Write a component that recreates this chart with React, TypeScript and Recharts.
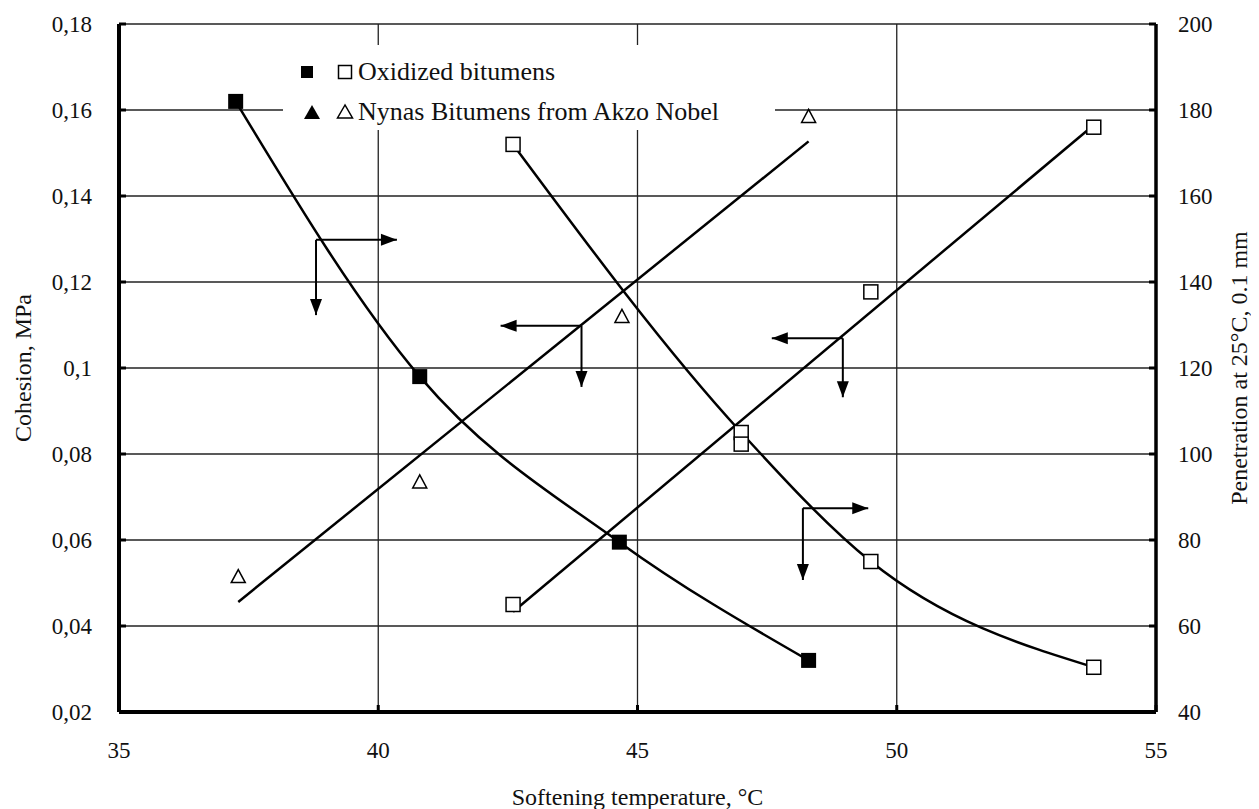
import { CartesianGrid, ComposedChart, Line, ReferenceDot, ReferenceLine, Scatter, XAxis, YAxis } from 'recharts';

// #region Data
// softening temperature, °C
const oxFilledTemp = [37.25, 40.8, 44.65, 48.3];
const oxFilledCohesion = [0.162, 0.098, 0.0595, 0.032];

const oxOpenTemp = [42.6, 47.0, 49.5, 53.8];
const oxOpenCohesion = [0.152, 0.085, 0.055, 0.0304];
const oxOpenPenetration = [65, 102.3, 137.7, 176];

const nynasTemp = [37.3, 40.8, 44.7, 48.3];
const nynasPenetration = [71.5, 93.5, 132, 178.5];

// straight trend lines (end points)
const oxTrendTemp = [42.6, 53.8];
const oxTrendPenetration = [63.3, 176.5];
const nynasTrendTemp = [37.3, 48.3];
const nynasTrendPenetration = [65.6, 172.7];

// little arrows telling which axis a curve belongs to (cohesion scale)
const arrowTemp = [38.8, 43.92, 48.96, 48.19];
const arrowCohesion = [0.1298, 0.1098, 0.1069, 0.0674];
const arrowTipTemp = [40.36, 42.36, 47.59, 49.45];
const arrowTipCohesion = [0.1123, 0.0956, 0.0932, 0.0507];

const tempTicks = [35, 40, 45, 50, 55];
const cohesionTicks = [0.02, 0.04, 0.06, 0.08, 0.1, 0.12, 0.14, 0.16, 0.18];
const penetrationTicks = [40, 60, 80, 100, 120, 140, 160, 180, 200];

const legendLabels = ['Oxidized bitumens', 'Nynas Bitumens from Akzo Nobel'];
// #endregion

const font = '"Liberation Serif", "Times New Roman", serif';
const ink = '#111';

const pts = (t: number[], v: number[]) => t.map((x, i) => ({ t: x, v: v[i] }));

const fmtComma = (v: number) => parseFloat(v.toFixed(2)).toString().replace('.', ',');

const XTick = ({ x, y, payload }: any) => (
    <g>
        <line x1={x} y1={y} x2={x} y2={y - 7} stroke="#000" strokeWidth={3} />
        <text x={x} y={y + 46} textAnchor="middle" fontSize={23} fill={ink} fontFamily={font}>{payload.value}</text>
    </g>
);

const LeftTick = ({ x, y, payload }: any) => (
    <g>
        <line x1={x} y1={y} x2={x + 7} y2={y} stroke="#000" strokeWidth={3} />
        <text x={x - 27} y={y + 8} textAnchor="end" fontSize={23} fill={ink} fontFamily={font}>{fmtComma(payload.value)}</text>
    </g>
);

const RightTick = ({ x, y, payload }: any) => (
    <g>
        <line x1={x} y1={y} x2={x - 7} y2={y} stroke="#000" strokeWidth={3} />
        <text x={x + 22} y={y + 8} textAnchor="start" fontSize={23} fill={ink} fontFamily={font}>{payload.value}</text>
    </g>
);

const FilledSquare = ({ cx, cy }: any) => <rect x={cx - 7.5} y={cy - 7.5} width={15} height={15} fill="#000" />;
const OpenSquare = ({ cx, cy }: any) => <rect x={cx - 7} y={cy - 7} width={14} height={14} fill="#fff" stroke="#000" strokeWidth={1.5} />;
const OpenTriangle = ({ cx, cy }: any) => (
    <polygon points={`${cx},${cy - 7} ${cx - 7},${cy + 6} ${cx + 7},${cy + 6}`} fill="#fff" stroke="#000" strokeWidth={1.5} />
);

const arrowHead = (dir: 'left' | 'right' | 'down') => ({ cx, cy }: any) => {
    const L = 16;
    const W = 6;
    let p = '';
    if (dir === 'right') p = `${cx},${cy} ${cx - L},${cy - W} ${cx - L},${cy + W}`;
    if (dir === 'left') p = `${cx},${cy} ${cx + L},${cy - W} ${cx + L},${cy + W}`;
    if (dir === 'down') p = `${cx},${cy} ${cx - W},${cy - L} ${cx + W},${cy - L}`;
    return <polygon points={p} fill="#000" />;
};

const LegendBox = () => (
    <div style={{ position: 'absolute', left: 275, top: 37, width: 492, height: 85, background: '#fff', fontFamily: font, fontSize: 26, color: ink }}>
        {legendLabels.map((label, i) => (
            <div key={label} style={{ position: 'absolute', left: 0, top: (i === 0 ? 27 : 67) - 15, height: 30, display: 'flex', alignItems: 'center' }}>
                <svg width={75} height={30}>
                    {i === 0 ? (
                        <>
                            <rect x={18} y={9} width={12} height={12} fill="#000" />
                            <rect x={55.5} y={8.5} width={13} height={13} fill="#fff" stroke="#000" strokeWidth={1.5} />
                        </>
                    ) : (
                        <>
                            <polygon points="29,8 21,22 37,22" fill="#000" />
                            <polygon points="62,8 54.5,21 69.5,21" fill="#fff" stroke="#000" strokeWidth={1.5} />
                        </>
                    )}
                </svg>
                <span style={{ lineHeight: '30px', whiteSpace: 'nowrap' }}>{label}</span>
            </div>
        ))}
    </div>
);

export default function App() {
    return (
        <div style={{ position: 'relative', width: 1251, height: 801 }}>
            <ComposedChart width={1251} height={801} margin={{ top: 16, right: 0, bottom: 0, left: 0 }}>
                <CartesianGrid yAxisId="left" stroke="#222" strokeWidth={1.3} />
                <XAxis
                    type="number"
                    dataKey="t"
                    domain={[35, 55]}
                    ticks={tempTicks}
                    height={97}
                    tickSize={0}
                    tickMargin={0}
                    tickLine={false}
                    tick={<XTick />}
                    axisLine={{ stroke: '#000', strokeWidth: 4 }}
                    label={{ value: 'Softening temperature, °C', position: 'insideBottom', offset: 4, fontSize: 24, fill: ink, fontFamily: font }}
                />
                <YAxis
                    yAxisId="left"
                    type="number"
                    dataKey="v"
                    domain={[0.02, 0.18]}
                    ticks={cohesionTicks}
                    width={111}
                    tickSize={0}
                    tickMargin={0}
                    tickLine={false}
                    tick={<LeftTick />}
                    axisLine={{ stroke: '#000', strokeWidth: 4 }}
                    label={{ value: 'Cohesion, MPa', angle: -90, position: 'insideLeft', offset: 14, fontSize: 24, fill: ink, fontFamily: font, style: { textAnchor: 'middle' } }}
                />
                <YAxis
                    yAxisId="right"
                    orientation="right"
                    type="number"
                    dataKey="v"
                    domain={[40, 200]}
                    ticks={penetrationTicks}
                    width={103}
                    tickSize={0}
                    tickMargin={0}
                    tickLine={false}
                    tick={<RightTick />}
                    axisLine={{ stroke: '#000', strokeWidth: 3.5 }}
                    label={{ value: 'Penetration at 25°C, 0.1 mm', angle: -90, position: 'insideRight', offset: 21, fontSize: 24, fill: ink, fontFamily: font, style: { textAnchor: 'middle' } }}
                />

                <Line yAxisId="left" data={pts(oxFilledTemp, oxFilledCohesion)} dataKey="v" type="monotone" stroke="#000" strokeWidth={2.5} dot={false} activeDot={false} isAnimationActive={false} />
                <Line yAxisId="left" data={pts(oxOpenTemp, oxOpenCohesion)} dataKey="v" type="monotone" stroke="#000" strokeWidth={2.5} dot={false} activeDot={false} isAnimationActive={false} />
                <Line yAxisId="right" data={pts(oxTrendTemp, oxTrendPenetration)} dataKey="v" type="linear" stroke="#000" strokeWidth={2.5} dot={false} activeDot={false} isAnimationActive={false} />
                <Line yAxisId="right" data={pts(nynasTrendTemp, nynasTrendPenetration)} dataKey="v" type="linear" stroke="#000" strokeWidth={2.5} dot={false} activeDot={false} isAnimationActive={false} />

                {arrowTemp.map((t, i) => (
                    <ReferenceLine key={`h${i}`} yAxisId="left" segment={[{ x: t, y: arrowCohesion[i] }, { x: arrowTipTemp[i], y: arrowCohesion[i] }]} stroke="#000" strokeWidth={2} />
                ))}
                {arrowTemp.map((t, i) => (
                    <ReferenceLine key={`v${i}`} yAxisId="left" segment={[{ x: t, y: arrowCohesion[i] }, { x: t, y: arrowTipCohesion[i] }]} stroke="#000" strokeWidth={2} />
                ))}
                {arrowTemp.map((t, i) => (
                    <ReferenceDot key={`ah${i}`} yAxisId="left" x={arrowTipTemp[i]} y={arrowCohesion[i]} shape={arrowHead(arrowTipTemp[i] > t ? 'right' : 'left')} />
                ))}
                {arrowTemp.map((t, i) => (
                    <ReferenceDot key={`av${i}`} yAxisId="left" x={t} y={arrowTipCohesion[i]} shape={arrowHead('down')} />
                ))}

                <Scatter yAxisId="left" data={pts(oxFilledTemp, oxFilledCohesion)} shape={<FilledSquare />} isAnimationActive={false} />
                <Scatter yAxisId="left" data={pts(oxOpenTemp, oxOpenCohesion)} shape={<OpenSquare />} isAnimationActive={false} />
                <Scatter yAxisId="right" data={pts(oxOpenTemp, oxOpenPenetration)} shape={<OpenSquare />} isAnimationActive={false} />
                <Scatter yAxisId="right" data={pts(nynasTemp, nynasPenetration)} shape={<OpenTriangle />} isAnimationActive={false} />
            </ComposedChart>
            <LegendBox />
        </div>
    );
}
